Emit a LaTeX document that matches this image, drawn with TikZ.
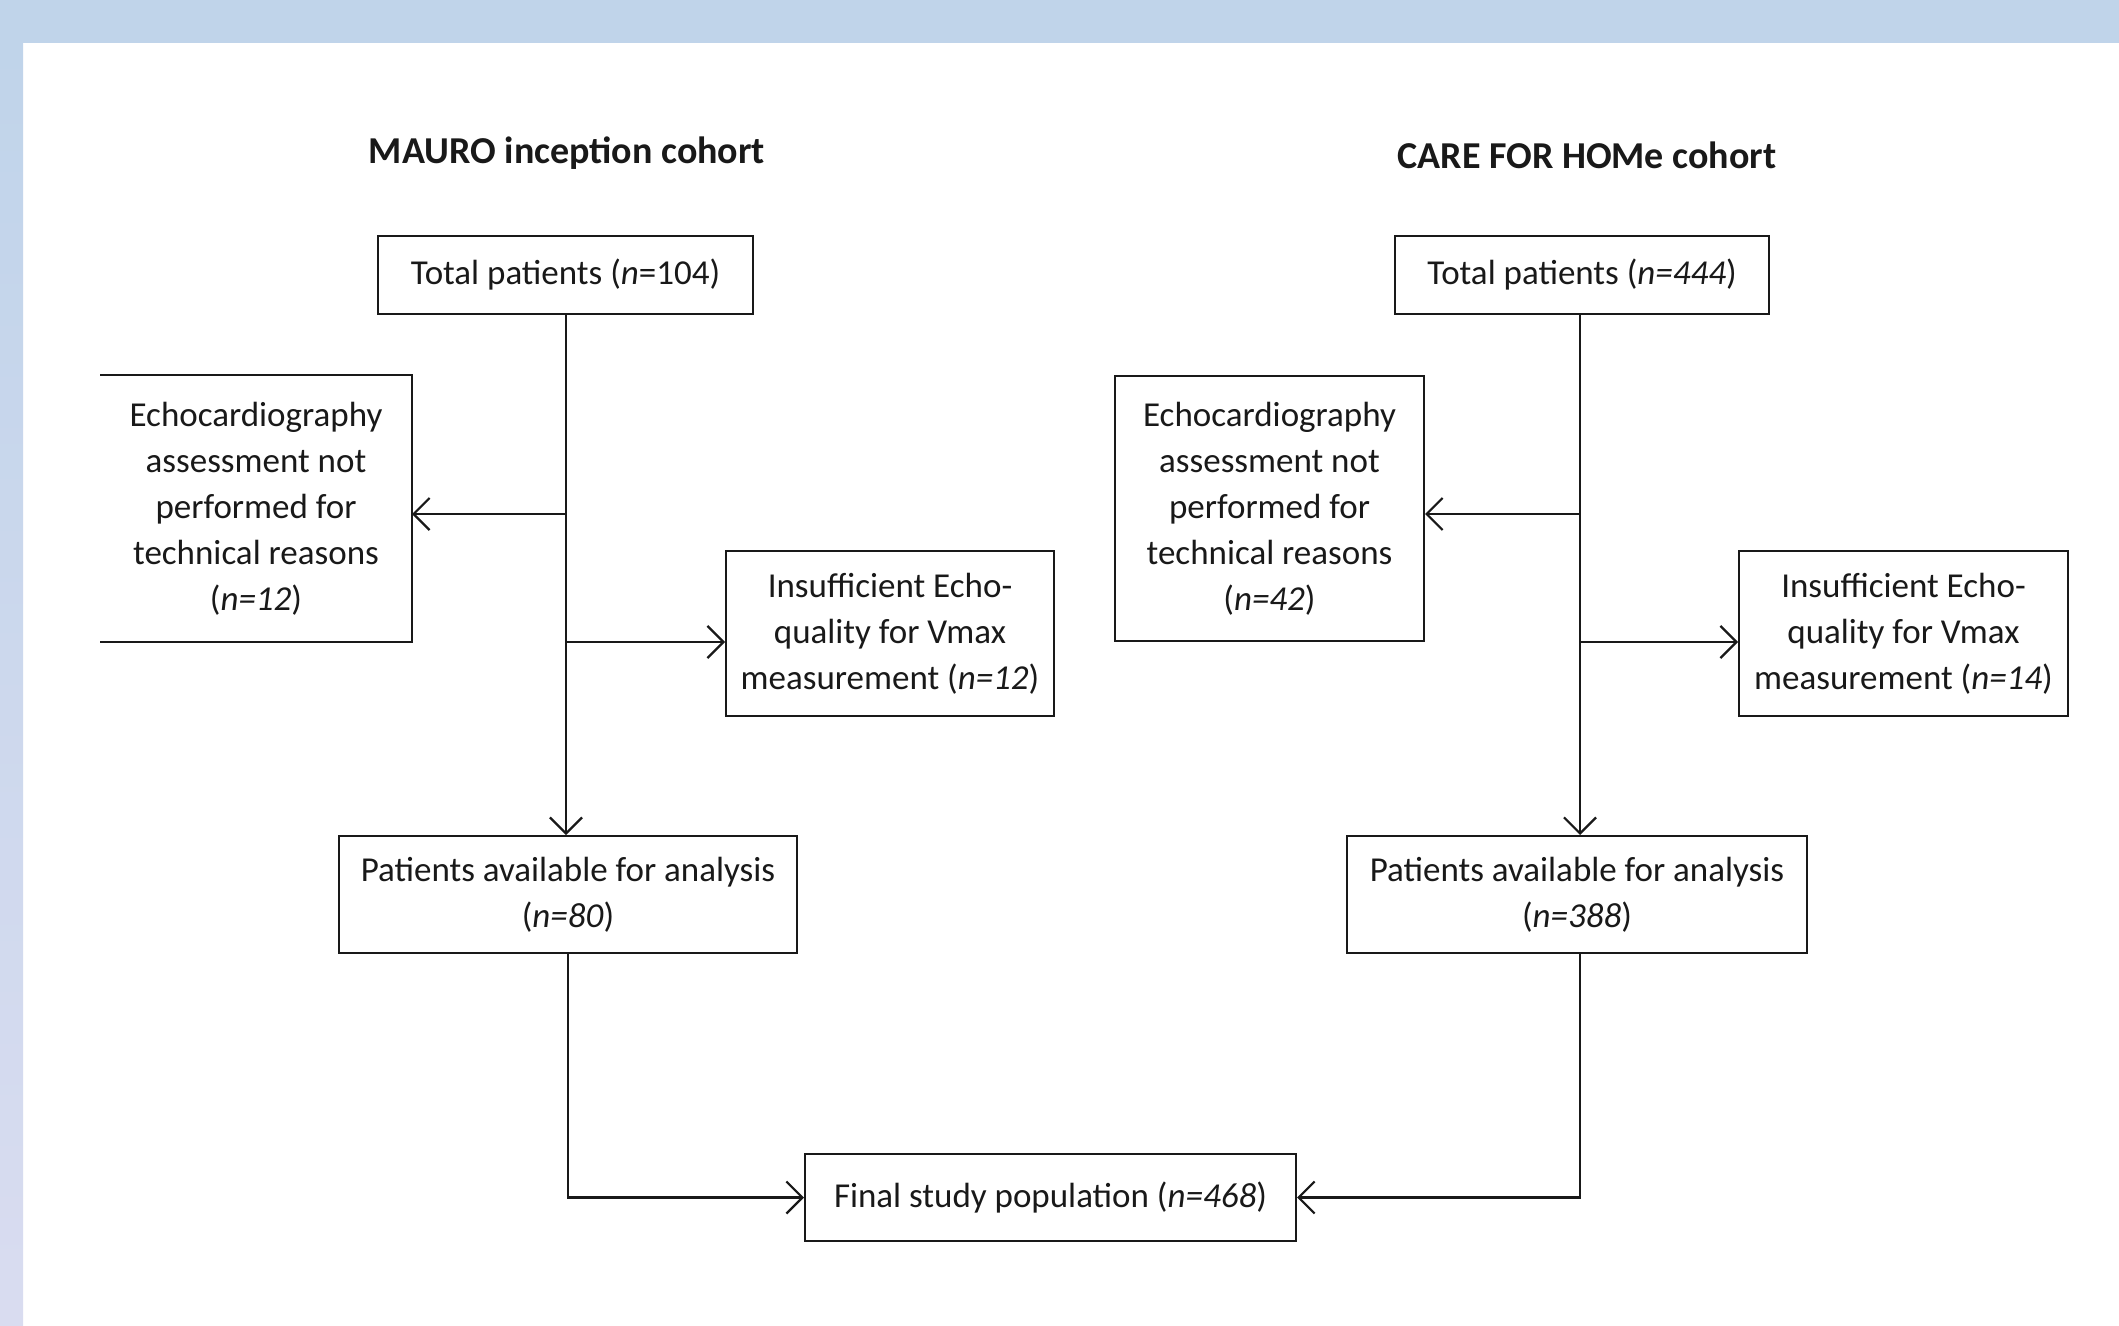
\documentclass[tikz,border=0pt]{standalone}
\usepackage{fontspec}
\setmainfont{Carlito}
\usetikzlibrary{arrows.meta}
\definecolor{bandtop}{RGB}{192,212,234}
\definecolor{bandbot}{RGB}{217,220,240}
\definecolor{ink}{RGB}{25,25,25}
\begin{document}
\begin{tikzpicture}[x=1pt,y=-1pt,
  box/.style={draw=ink, line width=2pt, align=center, text=ink, inner sep=0pt,
    font=\fontsize{35}{46}\selectfont},
  nobox/.style={box, draw=none},
  conn/.style={draw=ink, line width=2.2pt, -{Straight Barb[length=16pt,width=32pt,line width=2.2pt]}},
  ttl/.style={font=\bfseries\fontsize{38}{44}\selectfont, text=ink}]
\useasboundingbox (0,0) rectangle (2119,1325);
\fill[white] (0,0) rectangle (2119,1325);
\fill[bandtop] (0,0) rectangle (2119,43);
\shade[top color=bandtop, bottom color=bandbot] (0,43) rectangle (23,1325);
\fill[bandtop] (0,0) rectangle (23,43);

% titles
\node[ttl] (h1) at (567,153) {MAURO inception cohort};
\node[ttl] (h2) at (1587,155) {CARE FOR HOMe cohort};

% left cohort
\node[box, minimum width=375pt, minimum height=78pt] (t1) at (565.5,275) {Total patients (\textit{n}=104)};
\node[nobox, minimum width=310pt, minimum height=265pt] (e1) at (256,508.5)
  {Echocardiography\\assessment not\\performed for\\technical reasons\\(\textit{n=12})};
\draw[ink, line width=2pt] (e1.north west) -- (e1.north east) -- (e1.south east) -- (e1.south west);
\node[box, minimum width=328pt, minimum height=165pt] (i1) at (890,633.5)
  {Insufficient Echo-\\quality for Vmax\\measurement (\textit{n=12})};
\node[box, minimum width=458pt, minimum height=117pt] (p1) at (568,894.5)
  {Patients available for analysis\\(\textit{n=80})};

% right cohort
\node[box, minimum width=374pt, minimum height=78pt] (t2) at (1582,275) {Total patients (\textit{n=444})};
\node[box, minimum width=309pt, minimum height=265pt] (e2) at (1269.5,508.5)
  {Echocardiography\\assessment not\\performed for\\technical reasons\\(\textit{n=42})};
\node[box, minimum width=329pt, minimum height=165pt] (i2) at (1903.5,633.5)
  {Insufficient Echo-\\quality for Vmax\\measurement (\textit{n=14})};
\node[box, minimum width=460pt, minimum height=117pt] (p2) at (1577,894.5)
  {Patients available for analysis\\(\textit{n=388})};

% final
\node[box, minimum width=491pt, minimum height=87pt] (f) at (1050.5,1197.5)
  {Final study population (\textit{n=468})};

% connectors left
\coordinate (v1) at (566,314);
\coordinate (b1) at (566,514);
\coordinate (c1) at (566,642);
\draw[conn] (v1) -- (v1 |- p1.north);
\draw[conn] (b1) -- (e1.east |- b1);
\draw[conn] (c1) -- (i1.west |- c1);
\draw[conn] (p1.south) |- (f.west);

% connectors right
\coordinate (v2) at (1580,314);
\coordinate (b2) at (1580,514);
\coordinate (c2) at (1580,642);
\draw[conn] (v2) -- (v2 |- p2.north);
\draw[conn] (b2) -- (e2.east |- b2);
\draw[conn] (c2) -- (i2.west |- c2);
\draw[conn] (p2.south -| v2) |- (f.east);
\end{tikzpicture}
\end{document}
